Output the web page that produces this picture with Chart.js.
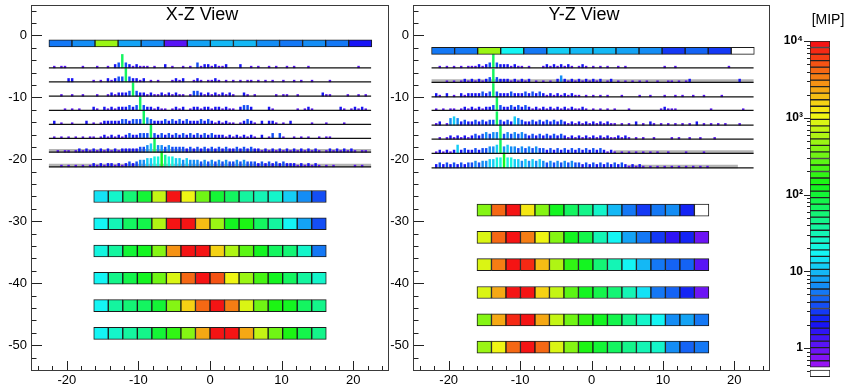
<!DOCTYPE html>
<html>
<head>
<meta charset="utf-8">
<script src="https://cdn.jsdelivr.net/npm/chart.js@4.4.1/dist/chart.umd.min.js"></script>
<style>
  body { margin: 0; background: #fff; width: 852px; height: 385px; overflow: hidden; position: relative; }
  canvas { position: absolute; top: 0; }
  #xzView { left: 0; }
  #yzView { left: 382px; }
  #mipBar { left: 770px; }
</style>
</head>
<body>
<canvas id="xzView" width="400" height="385"></canvas>
<canvas id="yzView" width="400" height="385"></canvas>
<canvas id="mipBar" width="82" height="385"></canvas>
<script>
// ---- data (energies in MIP) ----

// axis tick positions (labels only on multiples of 10)
const xTickValues = [-24, -22, -20, -18, -16, -14, -12, -10, -8, -6, -4, -2, 0,
                     2, 4, 6, 8, 10, 12, 14, 16, 18, 20, 22, 24];
const zTickValues = [-54, -52, -50, -48, -46, -44, -42, -40, -38, -36, -34, -32, -30,
                     -28, -26, -24, -22, -20, -18, -16, -14, -12, -10, -8, -6, -4, -2, 0, 2, 4];

// depth (z) of the six calorimeter layers
const xzLayerZ = [-26.0, -30.4, -34.8, -39.2, -43.6, -48.1];
const yzLayerZ = [-28.2, -32.6, -37.0, -41.5, -45.9, -50.3];

// 16 cells per layer, left to right
const xzCells = [
  [14, 28, 60, 110, 700, 9000, 1000, 350, 110, 70, 40, 30, 25, 11, 6, 3.5],
  [16, 32, 65, 90, 600, 8500, 9500, 1900, 480, 120, 140, 65, 40, 19, 8, 3.5],
  [22, 40, 100, 120, 430, 2800, 9500, 9500, 1700, 600, 250, 120, 65, 55, 28, 5.5],
  [16, 45, 90, 130, 300, 850, 4300, 9500, 5000, 1150, 480, 220, 120, 65, 40, 28],
  [19, 40, 55, 65, 100, 430, 1600, 4300, 9000, 3500, 800, 300, 140, 120, 65, 45],
  [16, 28, 40, 45, 100, 190, 430, 2100, 9500, 9000, 2500, 700, 300, 140, 75, 45]
];
const yzCells = [
  [430, 4000, 9000, 1230, 370, 120, 65, 45, 28, 9.5, 5.5, 3, 5.5, 6.5, 2.4, null],
  [800, 4000, 9000, 3500, 1000, 370, 120, 75, 33, 17, 8, 5, 2.7, 1.8, 2.3, 0.95],
  [800, 3500, 9000, 7000, 1900, 600, 190, 120, 55, 33, 17, 10, 5, 4.3, 4.3, 1.1],
  [800, 2300, 9000, 9000, 1700, 650, 255, 120, 90, 60, 33, 13, 5.5, 4.3, 2.3, 0.95],
  [430, 2100, 7000, 9000, 2500, 700, 300, 190, 120, 75, 45, 28, 17, 6.5, 8, 5.5],
  [450, 1150, 4300, 9000, 4000, 800, 370, 140, 110, 65, 50, 33, 26, 7, 4, 5]
];

// front layer of 14 wide cells
const xzFrontZ = -1.3;
const yzFrontZ = -2.5;
const xzFront = [5.5, 7, 480, 8, 6.5, 1.2, 8, 9, 9, 6.5, 5.5, 6.5, 5.5, 2];
const yzFront = [5, 5.5, 480, 16, 5.5, 12, 9, 9, 8.5, 6.5, 3, 4.3, 2.7, null];

// eight thin sampling planes: baseline z and hit heights (one digit per 0.5 bin from x=-22)
const xzPlaneZ = [-5.24, -7.5, -9.81, -12.11, -14.37, -16.63, -18.84, -21.21];
const yzPlaneZ = [-5.24, -7.6, -9.92, -12.11, -14.48, -16.74, -19.05, -21.37];
const xzPlaneHits = [
  "1011000010 0010010238 3212111010 0201001010 3122121120 0020010100 1010010100 0100000000 00000100",
  "0000220000 0101021233 8322120101 0001212001 2101121010 1010110101 0100100101 0010000100 00000000",
  "0010010010 0010012122 2383221211 2121211013 3212121212 1002101000 0010110010 0000021100 00100101",
  "0001010100 0210212122 2323832212 1101212012 2122122121 1023320000 2100000010 1210000000 21012121",
  "2010010002 0101222223 3233384322 2323232322 2323212121 1012321020 2210102000 0010001000 01000000",
  "1010101010 1101212121 2322333832 3232323232 3232322212 1212121020 1303100101 0100101100 00000000",
  "0101101212 1212121212 2222334584 4343333232 3232323232 2323232212 1212121212 1212101212 12121011",
  "0010101010 1212122121 2323445566 9766554544 4343434343 3434333232 3232322212 1212101010 00001010"
];
const yzPlaneHits = [
  "0101010101 1121238322 2121101000 1212121210 1210101010 0101000000 0000100100 0000000000 00100000",
  "0001010121 2121238322 2121212010 1010242121 2121212012 0101010101 0010011010 1200000000 00000200",
  "2102010212 2223238322 2322232323 2121212121 1010101010 0010000100 1000100101 0010010000 10000000",
  "1010110121 2121223832 2323232121 2121212121 1210101010 1000100000 0001211100 0000000100 00000010",
  "1201454232 2323233832 3254322323 2323232121 2121212121 1010102010 2101010101 0102010101 01000100",
  "0101212121 2323434483 4343432323 2323232121 2121212121 1212101010 0100001010 0100100010 00000000",
  "1212125232 2323344584 5443434343 3232323232 3232323212 1010101010 1010010000 1000010000 00000000",
  "2323232323 3434455669 6655454545 4343434343 3232323232 3232121210 1010101010 1010101000 00000000"
];
// grey pedestal bands: [plane index, x from, x to]
const xzPedestal = [[6, -22.5, 22.5], [7, -22.5, 22.5]];
const yzPedestal = [[1, -22.4, 22.7], [6, 3.1, 22.7], [7, 5.0, 20.5]];

// colour scale
const mipMin = 0.42, mipMax = 10000;
const mipUnderflow = [0.425, 0.515];

// ---- geometry / style ----
const nLevels = 50, logMin = -0.25, logMax = 4;
const levelStep = (logMax - logMin) / nLevels;
const cellPitch = 2.03;
const hitStart = -22, hitBin = 0.5, hitUnit = 0.27;

Chart.defaults.font.family = '"Liberation Sans", Arial, sans-serif';
Chart.defaults.color = '#000';

function levelColor(i) {
  const h = 275 * (1 - i / (nLevels - 1));
  return 'hsl(' + h.toFixed(1) + ',92%,52%)';
}

function mipColor(v) {
  if (v == null) return '#ffffff';
  let i = Math.floor((Math.log10(v) - logMin) / levelStep);
  i = Math.max(0, Math.min(nLevels - 1, i));
  return levelColor(i);
}

// hit height digit -> rough energy, only used for colouring
function hitMip(d) {
  return Math.pow(10, 0.05 + 0.26 * (d - 1));
}

function layerBars(cells, zs, shift) {
  const data = [], colors = [];
  cells.forEach((row, r) => {
    row.forEach((v, c) => {
      const x = (c - 7.5) * cellPitch + shift;
      data.push({ y: zs[r], x: [x - cellPitch / 2, x + cellPitch / 2] });
      colors.push(mipColor(v));
    });
  });
  return {
    type: 'bar', indexAxis: 'y', data: data, backgroundColor: colors,
    borderColor: '#1b1b1b', borderWidth: 1, borderSkipped: false,
    barThickness: 12, grouped: false, order: 1
  };
}

function frontBars(values, z, x0, x1) {
  const w = (x1 - x0) / values.length;
  return {
    type: 'bar', indexAxis: 'y',
    data: values.map((v, i) => ({ y: z, x: [x0 + i * w, x0 + (i + 1) * w] })),
    backgroundColor: values.map(mipColor),
    borderColor: '#1b1b1b', borderWidth: 1, borderSkipped: false,
    barThickness: 7, grouped: false, order: 1
  };
}

function hitBars(strings, zs) {
  const data = [], colors = [];
  strings.forEach((s, k) => {
    const digits = s.replace(/ /g, '');
    for (let i = 0; i < digits.length; i++) {
      const d = +digits[i];
      if (!d) continue;
      data.push({ x: hitStart + (i + 0.5) * hitBin, y: [zs[k], zs[k] + d * hitUnit] });
      colors.push(mipColor(hitMip(d)));
    }
  });
  return {
    type: 'bar', data: data, backgroundColor: colors, borderWidth: 0,
    barThickness: 1.8, grouped: false, order: 2
  };
}

function planeLines(zs, x0, x1) {
  return zs.map(z => ({
    type: 'line', data: [{ x: x0, y: z }, { x: x1, y: z }],
    borderColor: '#111', borderWidth: 1.3, pointRadius: 0, order: 0
  }));
}

function pedestalLines(bands, zs) {
  return bands.map(b => ({
    type: 'line', data: [{ x: b[1], y: zs[b[0]] + 0.22 }, { x: b[2], y: zs[b[0]] + 0.22 }],
    borderColor: '#b4b4b4', borderWidth: 3.5, pointRadius: 0, order: 3
  }));
}

// ROOT-like frame: box, inward ticks and title inside the pad
const rootFrame = {
  id: 'rootFrame',
  afterDraw(chart, args, opts) {
    const { ctx, chartArea: a, scales } = chart;
    ctx.save();
    ctx.strokeStyle = '#222';
    ctx.lineWidth = 1;
    ctx.beginPath();
    scales.x.ticks.forEach(t => {
      const p = Math.round(scales.x.getPixelForValue(t.value)) + 0.5;
      const len = t.value % 10 === 0 ? 10 : 5;
      ctx.moveTo(p, a.bottom);
      ctx.lineTo(p, a.bottom - len);
    });
    scales.y.ticks.forEach(t => {
      const p = Math.round(scales.y.getPixelForValue(t.value)) + 0.5;
      const len = t.value % 10 === 0 ? 11 : 5.5;
      ctx.moveTo(a.left, p);
      ctx.lineTo(a.left + len, p);
    });
    ctx.stroke();
    ctx.strokeStyle = '#3a3a3a';
    ctx.strokeRect(a.left + 0.5, a.top + 0.5, a.width - 1, a.height - 1);
    ctx.fillStyle = '#000';
    ctx.font = '18px "Liberation Sans", Arial, sans-serif';
    ctx.textAlign = 'center';
    ctx.textBaseline = 'middle';
    ctx.fillText(opts.title, chart.width / 2 + 2, 15.5);
    ctx.restore();
  }
};

const tenLabel = v => (v % 10 === 0 ? String(v) : '');

function viewChart(id, title, padRight, datasets) {
  return new Chart(document.getElementById(id), {
    type: 'bar',
    data: { datasets: datasets },
    options: {
      responsive: false,
      animation: false,
      events: [],
      layout: { padding: { top: 5, right: padRight, bottom: 0, left: 0 } },
      plugins: {
        legend: { display: false },
        tooltip: { enabled: false },
        rootFrame: { title: title }
      },
      scales: {
        x: {
          type: 'linear', min: -25, max: 25, offset: false,
          grid: { display: false, drawTicks: false, offset: false }, border: { display: false },
          ticks: {
            autoSkip: false, maxRotation: 0, padding: 3,
            font: { size: 13, lineHeight: 1 }, callback: tenLabel
          },
          afterBuildTicks: s => { s.ticks = xTickValues.map(v => ({ value: v })); },
          afterFit: s => { s.height = 14; s.paddingLeft = 0; s.paddingRight = 0; }
        },
        y: {
          type: 'linear', min: -54.16, max: 4.9, offset: false, beginAtZero: false,
          grid: { display: false, drawTicks: false, offset: false }, border: { display: false },
          ticks: {
            autoSkip: false, padding: 4, font: { size: 13 }, callback: tenLabel
          },
          afterBuildTicks: s => { s.ticks = zTickValues.map(v => ({ value: v })); },
          afterFit: s => { s.width = 31; s.paddingTop = 0; s.paddingBottom = 0; }
        }
      }
    },
    plugins: [rootFrame]
  });
}

viewChart('xzView', 'X-Z View', 11, [
  ...planeLines(xzPlaneZ, -22.5, 22.5),
  layerBars(xzCells, xzLayerZ, 0),
  frontBars(xzFront, xzFrontZ, -22.5, 22.6),
  hitBars(xzPlaneHits, xzPlaneZ),
  ...pedestalLines(xzPedestal, xzPlaneZ)
]);

viewChart('yzView', 'Y-Z View', 12, [
  ...planeLines(yzPlaneZ, -22.4, 22.7),
  layerBars(yzCells, yzLayerZ, 0.2),
  frontBars(yzFront, yzFrontZ, -22.4, 22.8),
  hitBars(yzPlaneHits, yzPlaneZ),
  ...pedestalLines(yzPedestal, yzPlaneZ)
]);

// ---- colour bar ----
const sup = { 2: '\u00b2', 3: '\u00b3', 4: '\u2074' };

const paletteAxis = {
  id: 'paletteAxis',
  afterDraw(chart) {
    const { ctx, chartArea: a, scales } = chart;
    ctx.save();
    ctx.strokeStyle = '#222';
    ctx.lineWidth = 1;
    ctx.beginPath();
    scales.y.ticks.forEach(t => {
      const e = Math.floor(Math.log10(t.value) + 1e-9);
      const m = t.value / Math.pow(10, e);
      if (Math.abs(m - Math.round(m)) > 1e-6) return;
      const p = Math.round(scales.y.getPixelForValue(t.value)) + 0.5;
      const len = Math.round(m) === 1 ? 6 : 3;
      ctx.moveTo(a.left, p);
      ctx.lineTo(a.left - len, p);
    });
    ctx.stroke();
    ctx.fillStyle = '#000';
    ctx.font = '14px "Liberation Sans", Arial, sans-serif';
    ctx.textAlign = 'center';
    ctx.textBaseline = 'middle';
    ctx.fillText('[MIP]', 58, 20);
    ctx.restore();
  }
};

const levelIndex = Array.from({ length: nLevels }, (_, i) => i);
const paletteData = levelIndex.map(i => ({
  x: 0, y: [Math.pow(10, logMin + i * levelStep), Math.pow(10, logMin + (i + 1) * levelStep)]
}));
paletteData.push({ x: 0, y: mipUnderflow });

new Chart(document.getElementById('mipBar'), {
  type: 'bar',
  data: {
    datasets: [{
      data: paletteData,
      backgroundColor: levelIndex.map(levelColor).concat(['#ffffff']),
      borderColor: '#222', borderWidth: 1, borderSkipped: false,
      barThickness: 20, grouped: false
    }]
  },
  options: {
    responsive: false,
    animation: false,
    events: [],
    layout: { padding: { top: 41, right: 22, bottom: 8, left: 0 } },
    plugins: { legend: { display: false }, tooltip: { enabled: false } },
    scales: {
      x: { type: 'linear', min: -1, max: 1, display: false, offset: false },
      y: {
        type: 'logarithmic', min: mipMin, max: mipMax, offset: false,
        grid: { display: false, drawTicks: false }, border: { display: false },
        ticks: {
          autoSkip: false, padding: 7, font: { size: 12, weight: 'bold' },
          callback: v => {
            const e = Math.log10(v);
            if (Math.abs(e - Math.round(e)) > 1e-6) return '';
            const k = Math.round(e);
            if (k === 0) return '1';
            if (k === 1) return '10';
            return '10' + sup[k];
          }
        },
        afterFit: s => { s.width = 40; s.paddingTop = 0; s.paddingBottom = 0; }
      }
    }
  },
  plugins: [paletteAxis]
});
</script>
</body>
</html>
